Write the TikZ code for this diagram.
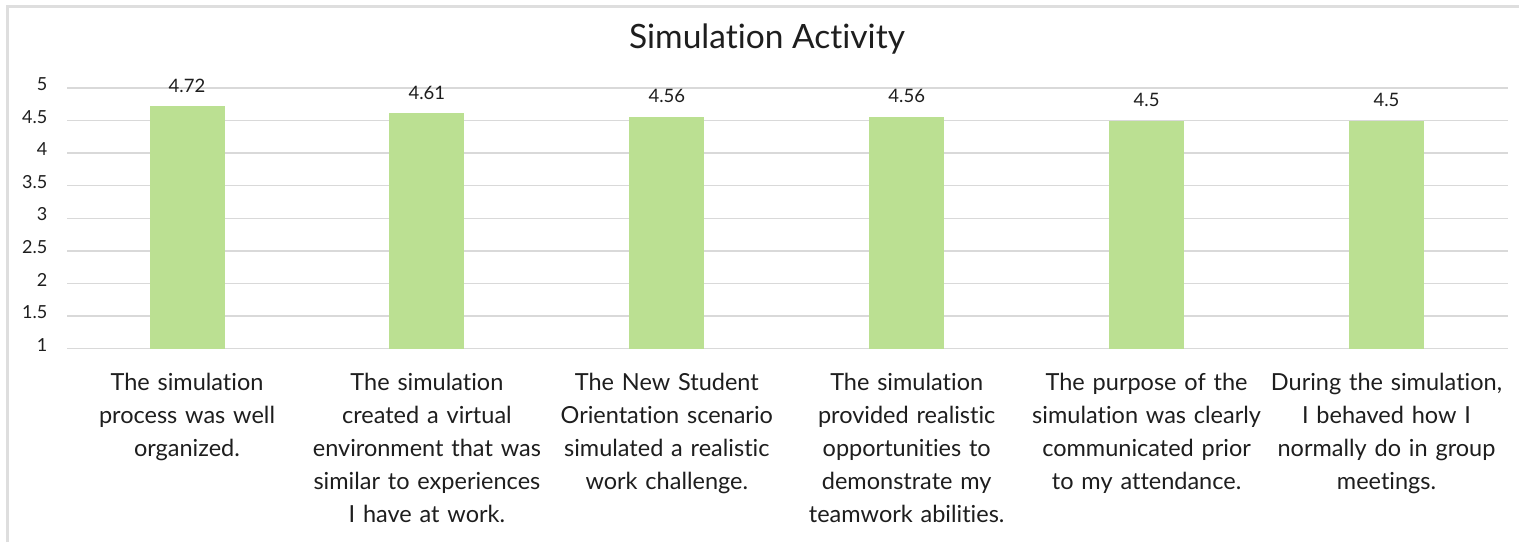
\documentclass[tikz,border=0pt]{standalone}
\usepackage{fontspec}
\setmainfont{Lato}[Ligatures=NoCommon]
\definecolor{barfill}{RGB}{187,224,146}
\definecolor{gridc}{RGB}{217,217,217}
\definecolor{framec}{RGB}{222,222,222}
\definecolor{txt}{RGB}{30,30,30}
\tikzset{
  ticklab/.style={anchor=mid east,inner sep=0pt,text=txt,font=\fontsize{18}{21}\selectfont},
  vallab/.style={anchor=base,inner sep=0pt,text=txt,font=\fontsize{18.5}{21}\selectfont},
  catlab/.style={anchor=base,inner sep=0pt,text=txt,text width=238pt,align=center,font=\fontsize{23.5}{33}\selectfont},
  titlelab/.style={anchor=base,inner sep=0pt,text=txt,font=\fontsize{33.5}{38}\selectfont},
  gridline/.style={draw=gridc,line width=1.4pt},
  barstyle/.style={fill=barfill}
}
\begin{document}
\begin{tikzpicture}[x=1pt,y=-1pt]
\useasboundingbox (0,0) rectangle (1519,542);
\fill[white] (0,0) rectangle (1519,542);
% frame
\draw[framec,line width=2.5pt] (7.5,542) -- (7.5,6.5) -- (1519,6.5);
% gridlines
\foreach \v in {1,1.5,...,5} {
  \pgfmathsetmacro{\yy}{348.7-(\v-1)*65.18}
  \draw[gridline] (67,\yy) -- (1508,\yy);
}
% tick labels
\foreach \v/\t in {1/1,1.5/1.5,2/2,2.5/2.5,3/3,3.5/3.5,4/4,4.5/4.5,5/5} {
  \pgfmathsetmacro{\yy}{348.7-(\v-1)*65.18}
  \node[ticklab] (tick\t) at (47.5,\yy) {\t};
}
% bars and value labels
\foreach \i/\v in {0/4.72,1/4.61,2/4.56,3/4.56,4/4.5,5/4.5} {
  \pgfmathsetmacro{\cx}{187+\i*239.9}
  \pgfmathsetmacro{\yt}{348.7-(\v-1)*65.18}
  \fill[barstyle] (\cx-37.5,348.7) rectangle (\cx+37.5,\yt);
  \node[vallab] (val\i) at (\cx,\yt-14) {\v};
}
% title
\node[titlelab] (title) at (767,48.5) {Simulation Activity};
% category labels
\node[catlab] (cat0) at (187,390) {The simulation\\process was well\\organized.};
\node[catlab] (cat1) at (426.9,390) {The simulation\\created a virtual\\environment that was\\similar to experiences\\I have at work.};
\node[catlab] (cat2) at (666.8,390) {The New Student\\Orientation scenario\\simulated a realistic\\work challenge.};
\node[catlab] (cat3) at (906.7,390) {The simulation\\provided realistic\\opportunities to\\demonstrate my\\teamwork abilities.};
\node[catlab] (cat4) at (1146.6,390) {The purpose of the\\simulation was clearly\\communicated prior\\to my attendance.};
\node[catlab] (cat5) at (1386.5,390) {During the simulation,\\I behaved how I\\normally do in group\\meetings.};
\end{tikzpicture}
\end{document}
